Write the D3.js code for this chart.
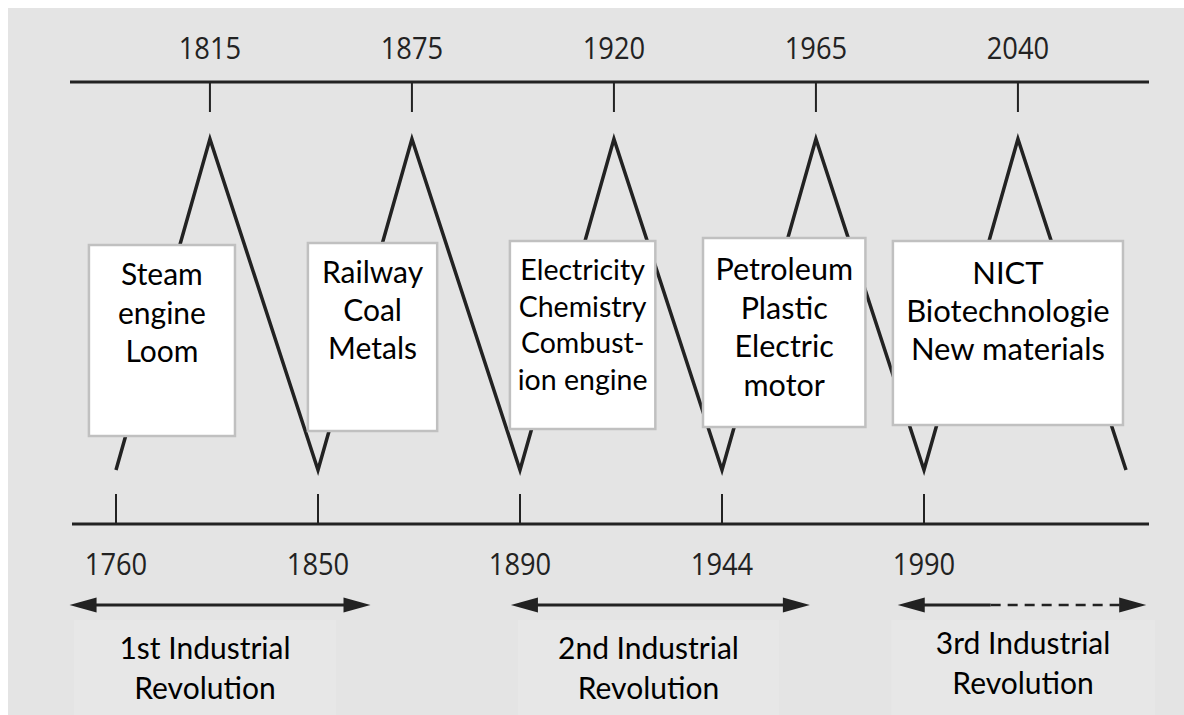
<!DOCTYPE html>
<html>
<head>
<meta charset="utf-8">
<script src="https://cdnjs.cloudflare.com/ajax/libs/d3/7.8.5/d3.min.js"></script>
<style>
  html, body { margin: 0; padding: 0; background: #fff; }
  svg { display: block; }
</style>
</head>
<body>
<div id="chart"></div>
<script>
// timeline data
var topYears = ['1815', '1875', '1920', '1965', '2040'];
var bottomYears = ['1760', '1850', '1890', '1944', '1990'];
var boxLines = [
    ['Steam', 'engine', 'Loom'],
    ['Railway', 'Coal', 'Metals'],
    ['Electricity', 'Chemistry', 'Combust-', 'ion engine'],
    ['Petroleum', 'Plastic', 'Electric', 'motor'],
    ['NICT', 'Biotechnologie', 'New materials']
];
var revLabels = [
    ['1st Industrial', 'Revolution'],
    ['2nd Industrial', 'Revolution'],
    ['3rd Industrial', 'Revolution']
];

var width = 1184, height = 715;

var svg = d3.select('#chart')
    .append('svg')
    .attr('width', width)
    .attr('height', height);

// grey panel
svg.append('rect')
    .attr('x', 8).attr('y', 8)
    .attr('width', width - 8).attr('height', height - 8)
    .attr('fill', '#e4e4e4');

// position along the wave: bottom years at whole steps, top years a bit after
var x = d3.scaleLinear().domain([0, 5]).range([116, 1126]);
var peakShift = 0.465;
var yTop = 82, yBottom = 524;
var yPeak = 139, yTrough = 470;

// layout of the boxes and revolution spans (in wave steps)
var boxSpan = [[-0.134, 0.589], [0.95, 1.59], [1.95, 2.67], [2.906, 3.71], [3.846, 4.985]];
var boxTop = [245, 243, 241, 238, 241], boxBottom = [436, 431, 429, 427, 425];
var boxFont = [30, 30, 28.5, 30.5, 31];
var boxLineH = [38.5, 38, 36.5, 38.5, 38];
var boxFirst = [285, 283, 280, 280, 284];
var revSpan = [[-0.23, 1.26], [1.955, 3.435], [3.87, 5.1]];
var revDash = [null, null, 4.33];
var revBg = [[-0.208, 1.089], [1.99, 3.282], [3.837, 5.144]];

function yearLabel(sel, yPos) {
    sel.attr('transform', function (d) { return 'translate(' + d.x + ',' + yPos + ') scale(0.88,1)'; })
        .attr('text-anchor', 'middle')
        .style('font-family', 'Open Sans')
        .style('font-size', '31px')
        .attr('fill', '#222')
        .text(function (d) { return d.year; });
}

// top axis
svg.append('line')
    .attr('x1', 70).attr('x2', 1149)
    .attr('y1', yTop).attr('y2', yTop)
    .attr('stroke', '#222').attr('stroke-width', 3);

svg.selectAll('.ttick')
    .data(topYears).enter()
    .append('line')
    .attr('class', 'ttick')
    .attr('x1', function (d, i) { return x(i + peakShift); })
    .attr('x2', function (d, i) { return x(i + peakShift); })
    .attr('y1', yTop).attr('y2', yTop + 30)
    .attr('stroke', '#222').attr('stroke-width', 2);

svg.selectAll('.tlab')
    .data(topYears.map(function (d, i) { return { year: d, x: x(i + peakShift) }; })).enter()
    .append('text')
    .attr('class', 'tlab')
    .call(yearLabel, 59);

// bottom axis
svg.append('line')
    .attr('x1', 72).attr('x2', 1149)
    .attr('y1', yBottom).attr('y2', yBottom)
    .attr('stroke', '#222').attr('stroke-width', 3);

svg.selectAll('.btick')
    .data(bottomYears).enter()
    .append('line')
    .attr('class', 'btick')
    .attr('x1', function (d, i) { return x(i); })
    .attr('x2', function (d, i) { return x(i); })
    .attr('y1', yBottom - 30).attr('y2', yBottom)
    .attr('stroke', '#222').attr('stroke-width', 2);

svg.selectAll('.blab')
    .data(bottomYears.map(function (d, i) { return { year: d, x: x(i) }; })).enter()
    .append('text')
    .attr('class', 'blab')
    .call(yearLabel, 575);

// the wave: bottom year -> top year -> next bottom year ...
var wave = [];
bottomYears.forEach(function (d, i) {
    wave.push([x(i), yTrough]);
    wave.push([x(i + peakShift), yPeak]);
});
wave.push([x(5), yTrough]);

svg.append('path')
    .attr('d', d3.line()(wave))
    .attr('fill', 'none')
    .attr('stroke', '#222')
    .attr('stroke-width', 3.5)
    .attr('stroke-linejoin', 'miter');

// boxes
var boxes = svg.selectAll('.box')
    .data(boxLines).enter()
    .append('g')
    .attr('class', 'box');

boxes.append('rect')
    .attr('x', function (d, i) { return x(boxSpan[i][0]); })
    .attr('y', function (d, i) { return boxTop[i]; })
    .attr('width', function (d, i) { return x(boxSpan[i][1]) - x(boxSpan[i][0]); })
    .attr('height', function (d, i) { return boxBottom[i] - boxTop[i]; })
    .attr('fill', '#fff')
    .attr('stroke', '#c0c0c0')
    .attr('stroke-width', 2.5);

boxes.each(function (d, i) {
    var cx = (x(boxSpan[i][0]) + x(boxSpan[i][1])) / 2;
    d3.select(this).selectAll('text')
        .data(d).enter()
        .append('text')
        .attr('x', cx)
        .attr('y', function (t, j) { return boxFirst[i] + j * boxLineH[i]; })
        .attr('text-anchor', 'middle')
        .style('font-family', 'Lato')
        .style('font-size', boxFont[i] + 'px')
        .attr('fill', '#000')
        .text(function (t) { return t; });
});

// revolution spans
var arrowY = 605;
function arrowHead(xTip, dir) {
    var len = 27, half = 7.5;
    return 'M' + xTip + ',' + arrowY +
        'L' + (xTip - dir * len) + ',' + (arrowY - half) +
        'L' + (xTip - dir * len) + ',' + (arrowY + half) + 'Z';
}

revLabels.forEach(function (lines, i) {
    var g = svg.append('g');
    var x0 = x(revSpan[i][0]), x1 = x(revSpan[i][1]);
    var bg0 = x(revBg[i][0]), bg1 = x(revBg[i][1]);

    g.append('rect')
        .attr('x', bg0).attr('y', 620)
        .attr('width', bg1 - bg0).attr('height', height - 620)
        .attr('fill', '#e7e7e7');

    var solidEnd = revDash[i] === null ? x1 - 20 : x(revDash[i]);
    g.append('line')
        .attr('x1', x0 + 20).attr('x2', solidEnd)
        .attr('y1', arrowY).attr('y2', arrowY)
        .attr('stroke', '#222').attr('stroke-width', 3);
    if (revDash[i] !== null) {
        g.append('line')
            .attr('x1', solidEnd).attr('x2', x1 - 20)
            .attr('y1', arrowY).attr('y2', arrowY)
            .attr('stroke', '#222').attr('stroke-width', 2.5)
            .attr('stroke-dasharray', '10,7');
    }
    g.append('path').attr('d', arrowHead(x0, -1)).attr('fill', '#222');
    g.append('path').attr('d', arrowHead(x1, 1)).attr('fill', '#222');

    var cx = (bg0 + bg1) / 2;
    var firstY = i === 2 ? 654 : 659;
    g.selectAll('text')
        .data(lines).enter()
        .append('text')
        .attr('x', cx)
        .attr('y', function (t, j) { return firstY + j * 40; })
        .attr('text-anchor', 'middle')
        .style('font-family', 'Lato')
        .style('font-size', '30px')
        .attr('fill', '#000')
        .text(function (t) { return t; });
});
</script>
</body>
</html>
